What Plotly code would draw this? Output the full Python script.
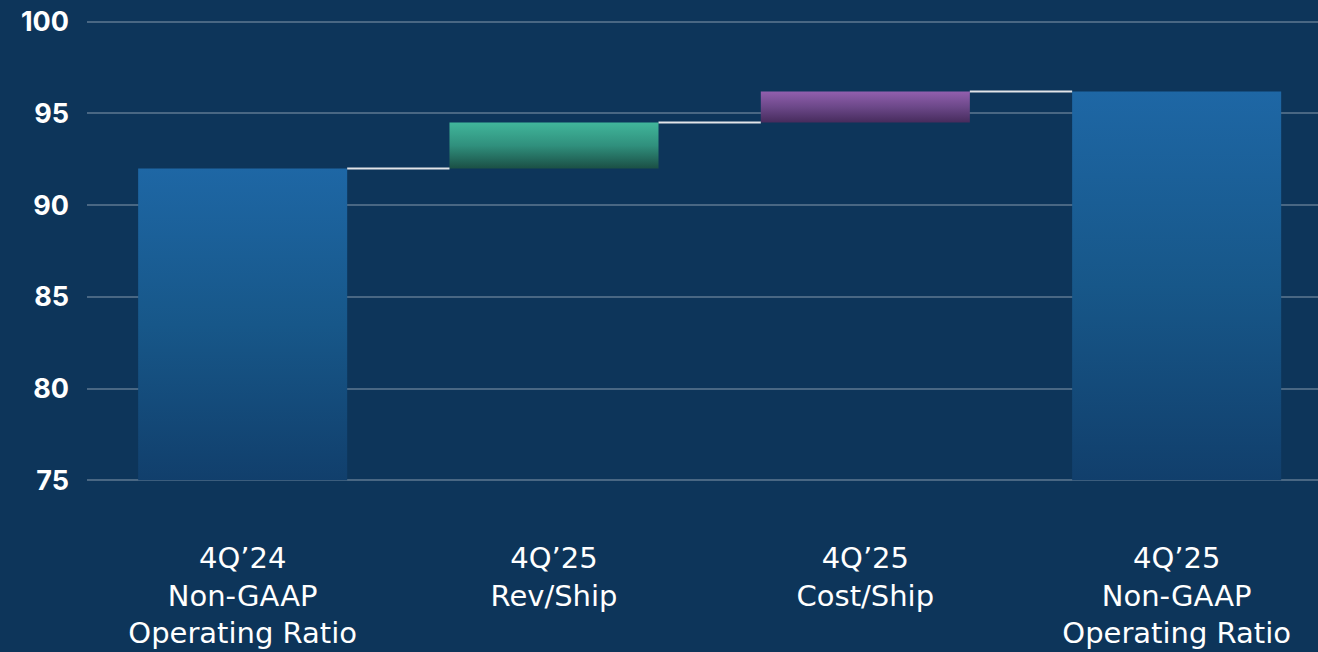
import plotly.graph_objects as go

# ---- data ----
categories = [
    "4Q’24<br>Non-GAAP<br>Operating Ratio",
    "4Q’25<br>Rev/Ship",
    "4Q’25<br>Cost/Ship",
    "4Q’25<br>Non-GAAP<br>Operating Ratio",
]
measures = ["absolute", "relative", "relative", "total"]
values = [92.0, 2.5, 1.7, 0.0]
axis_floor = 75
y_ticks = [75, 80, 85, 90, 95, 100]

# colours (bottom, middle, top) per bar
bar_colors = [
    ["#113f6c", "#175789", "#1e67a5"],
    ["#1b4f45", "#30907d", "#41b69b"],
    ["#462b5c", "#6c4889", "#925fae"],
    ["#113f6c", "#175789", "#1e67a5"],
]

# ---- running totals ----
lows, highs, ends = [], [], []
running = 0.0
for m, v in zip(measures, values):
    if m == "absolute":
        running = v
        lows.append(axis_floor)
        highs.append(v)
    elif m == "relative":
        lo = running
        running = running + v
        lows.append(min(lo, running))
        highs.append(max(lo, running))
    else:
        lows.append(axis_floor)
        highs.append(running)
    ends.append(running)

hw = 0.3357
fig = go.Figure()

for i, (lo, hi, cols) in enumerate(zip(lows, highs, bar_colors)):
    fig.add_trace(go.Scatter(
        x=[i - hw, i + hw, i + hw, i - hw, i - hw],
        y=[lo, lo, hi, hi, lo],
        mode="lines",
        line=dict(width=0, color=cols[2]),
        fill="toself",
        fillgradient=dict(type="vertical",
                          colorscale=[[0, cols[0]], [0.5, cols[1]], [1, cols[2]]]),
        hoverinfo="skip",
        showlegend=False,
    ))

cx, cy = [], []
for i in range(len(categories) - 1):
    cx += [i + hw, i + 1 - hw, None]
    cy += [ends[i], ends[i], None]
fig.add_trace(go.Scatter(x=cx, y=cy, mode="lines",
                         line=dict(color="#e2e4e8", width=2),
                         hoverinfo="skip", showlegend=False))

bg = "#0d355a"
fig.update_layout(
    width=1318, height=652,
    margin=dict(l=87, r=0, t=18, b=168),
    paper_bgcolor=bg, plot_bgcolor=bg,
    font=dict(family="Inter, Open Sans, sans-serif", color="white"),
    xaxis=dict(
        range=[-0.5, 3.454],
        tickmode="array", tickvals=list(range(len(categories))), ticktext=categories,
        showgrid=False, zeroline=False, showline=False,
        tickfont=dict(family="DejaVu Sans, sans-serif", size=29, color="white"),
        ticklabelstandoff=54,
    ),
    yaxis=dict(
        range=[74.8, 100.2],
        tickmode="array", tickvals=y_ticks,
        showgrid=True, gridcolor="rgba(255,255,255,0.25)", gridwidth=1.5,
        zeroline=False, showline=False,
        tickfont=dict(family="Inter, sans-serif", size=27, color="white", weight="bold"),
        ticklabelstandoff=17,
    ),
)

fig.write_html(
    "out.html",
    config={"displayModeBar": False},
    post_script="document.body.style.margin='0';document.body.style.overflow='hidden';",
)
